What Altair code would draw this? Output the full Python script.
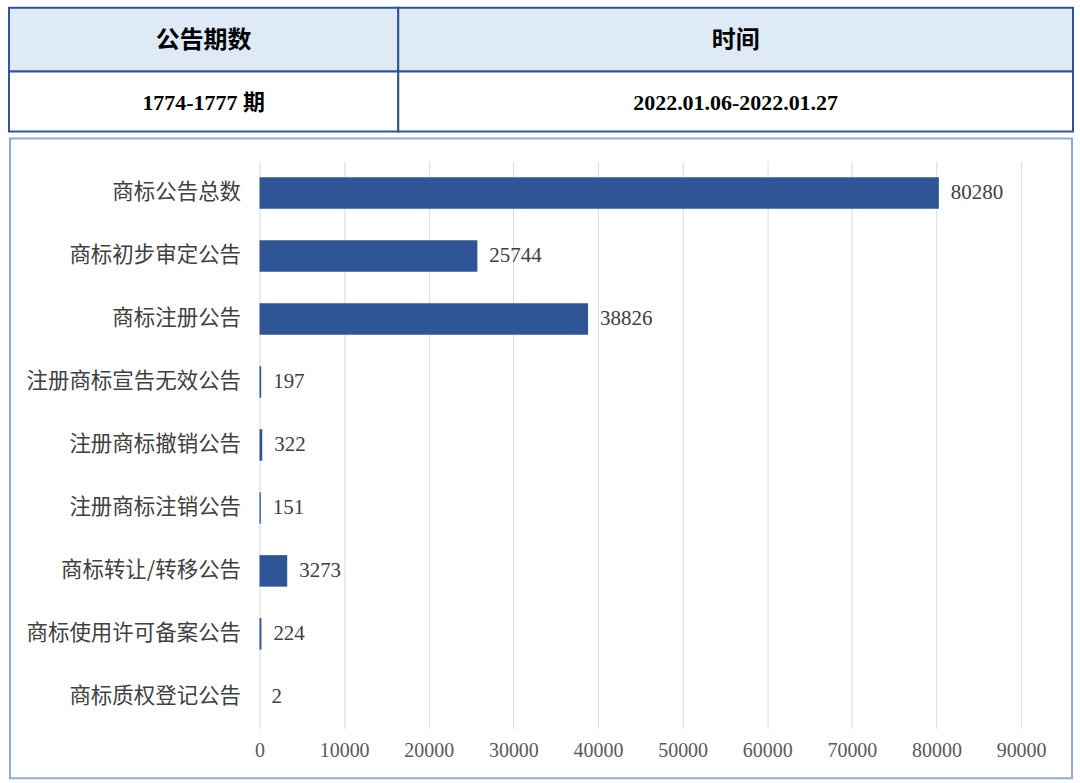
import altair as alt
import pandas as pd

# ---- data ----
header_labels = ["公告期数", "时间"]
header_values = ["1774-1777 期", "2022.01.06-2022.01.27"]

categories = [
    "商标公告总数",
    "商标初步审定公告",
    "商标注册公告",
    "注册商标宣告无效公告",
    "注册商标撤销公告",
    "注册商标注销公告",
    "商标转让/转移公告",
    "商标使用许可备案公告",
    "商标质权登记公告",
]
values = [80280, 25744, 38826, 197, 322, 151, 3273, 224, 2]
x_ticks = [0, 10000, 20000, 30000, 40000, 50000, 60000, 70000, 80000, 90000]

# ---- styles ----
BORDER = "#2F5597"
HEAD_FILL = "#DEEBF7"
BAR = "#2F5597"
CJK = "Noto Sans CJK SC"
SERIF = "Liberation Serif, Noto Sans CJK SC"

col_w = [390, 676]
row_h = [64, 60]


def cell(text, w, h, fill, font, size):
    return (
        alt.Chart(pd.DataFrame({"t": [text]}))
        .mark_text(font=font, fontSize=size, fontWeight="bold", color="#000000")
        .encode(x=alt.value(w / 2), y=alt.value(h / 2 + 1), text="t:N")
        .properties(
            width=w,
            height=h,
            view=alt.ViewBackground(fill=fill, stroke=BORDER, strokeWidth=2),
        )
    )


cells = [cell(t, col_w[i], row_h[0], HEAD_FILL, CJK, 24) for i, t in enumerate(header_labels)]
cells += [cell(t, col_w[i], row_h[1], "#FFFFFF", SERIF, 22) for i, t in enumerate(header_values)]
table = alt.concat(*cells, columns=2, spacing=0, bounds="flush")

# ---- bar chart ----
df = pd.DataFrame({"cat": categories, "val": values})
BOX_W, BOX_H = 1064, 641

xscale = alt.Scale(domain=[0, 90000], range=[250, 1013], nice=False, zero=True)
yscale = alt.Scale(range=[23, 591], paddingInner=0.5, paddingOuter=0.25)

base = alt.Chart(df)

bars = base.mark_bar(color=BAR).encode(
    x=alt.X(
        "val:Q",
        scale=xscale,
        axis=alt.Axis(
            orient="bottom",
            offset=-50,
            values=x_ticks,
            format="d",
            grid=False,
            ticks=False,
            domain=False,
            labelPadding=12,
            labelFlush=False,
            labelFont=SERIF,
            labelFontSize=20,
            labelColor="#595959",
            labelOverlap=False,
            title=None,
        ),
    ),
    y=alt.Y(
        "cat:N",
        sort=categories,
        scale=yscale,
        axis=alt.Axis(
            orient="left",
            offset=-250,
            labelPadding=19,
            domain=False,
            ticks=False,
            grid=False,
            labelFont=CJK,
            labelFontSize=21.5,
            labelColor="#404040",
            labelLimit=400,
            title=None,
        ),
    ),
)

labels = base.mark_text(
    align="left", baseline="middle", dx=12, font=SERIF, fontSize=21, color="#404040"
).encode(
    x=alt.X(
        "val:Q",
        scale=xscale,
        axis=alt.Axis(
            orient="top",
            values=x_ticks,
            grid=True,
            gridColor="#D9D9D9",
            gridWidth=1,
            labels=False,
            ticks=False,
            domain=False,
            title=None,
        ),
    ),
    y=alt.Y("cat:N", sort=categories, scale=yscale),
    text=alt.Text("val:Q", format="d"),
)

bar_chart = (
    alt.layer(labels, bars)
    .resolve_axis(x="independent")
    .properties(
        width=BOX_W,
        height=BOX_H,
        view=alt.ViewBackground(fill="#FFFFFF", stroke="#8EA9DB", strokeWidth=2),
    )
)

chart = (
    alt.vconcat(table, bar_chart, spacing=5, center=True)
    .properties(
        padding={"left": 8, "top": 6, "right": 6, "bottom": 3},
        background="#FFFFFF",
    )
)

chart.save("out.html", embed_options={"renderer": "svg", "actions": False})
